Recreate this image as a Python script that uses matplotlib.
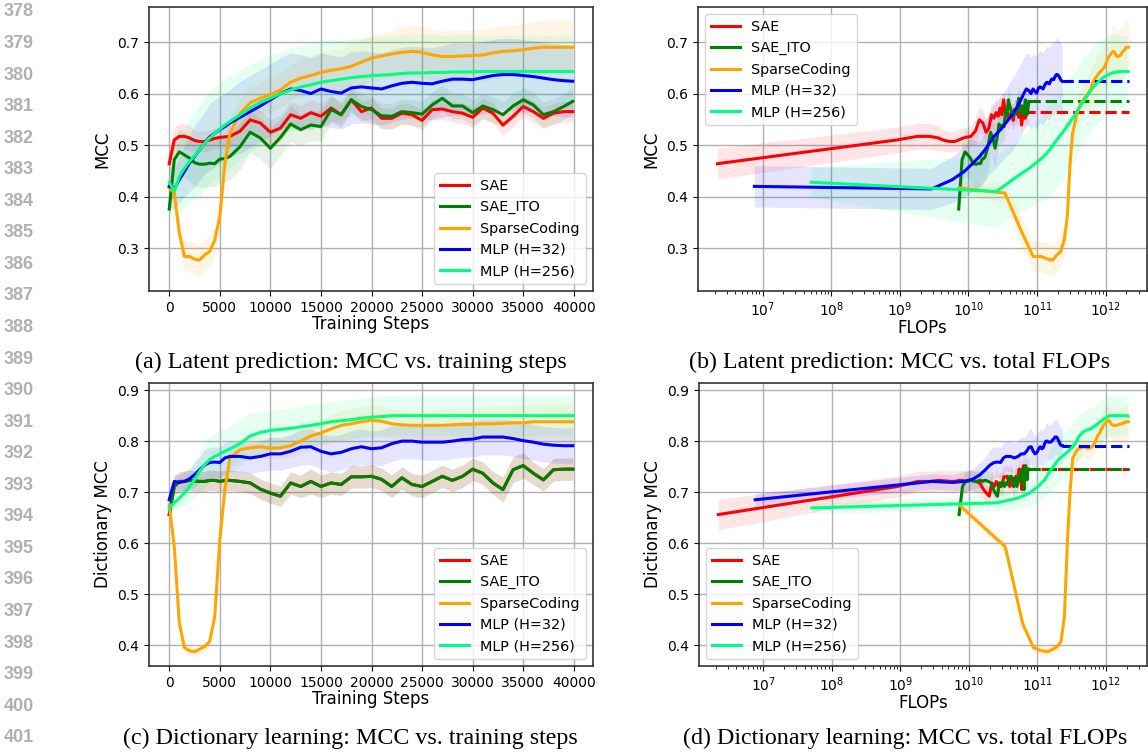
import matplotlib.pyplot as plt
import numpy as np

plt.rcParams['font.family'] = 'DejaVu Sans'

# training steps at which MCC was logged
steps = [0, 500, 1000, 1500, 2000, 2500, 3000, 3500, 4000, 4500, 5000, 5500, 6000,
         7000, 8000, 9000, 10000, 11000, 12000, 13000, 14000, 15000, 16000, 17000,
         18000, 19000, 20000, 21000, 22000, 23000, 24000, 25000, 26000, 27000, 28000,
         29000, 30000, 31000, 32000, 33000, 34000, 35000, 36000, 37000, 38000, 39000, 39900]

methods = ['SAE', 'SAE_ITO', 'SparseCoding', 'MLP (H=32)', 'MLP (H=256)']
colors = ['red', 'green', 'orange', 'blue', 'springgreen']

# FLOPs model: cost at step 0 and cost per training step
flops_start = [2.2e6, 7.2e9, 7.2e9, 7.6e6, 5.1e7]
flops_per_step = [1.8e6, 1.72e6, 5.35e7, 5.8e6, 5.1e7]
dash_offset = [1.0, 0, 0, 0, 0]

# latent prediction MCC (mean)
lat_sae = [0.464, 0.510, 0.517, 0.517, 0.514, 0.509, 0.507, 0.507, 0.510, 0.513, 0.515, 0.516, 0.517,
           0.527, 0.549, 0.543, 0.525, 0.533, 0.559, 0.552, 0.563, 0.556, 0.572, 0.559, 0.588, 0.565,
           0.572, 0.552, 0.552, 0.562, 0.559, 0.548, 0.569, 0.570, 0.565, 0.562, 0.554, 0.572, 0.562,
           0.539, 0.556, 0.575, 0.565, 0.552, 0.562, 0.565, 0.565]
lat_ito = [0.376, 0.472, 0.487, 0.481, 0.475, 0.466, 0.463, 0.463, 0.465, 0.464, 0.473, 0.474, 0.478,
           0.497, 0.525, 0.514, 0.494, 0.515, 0.541, 0.530, 0.539, 0.536, 0.569, 0.559, 0.588, 0.575,
           0.569, 0.557, 0.556, 0.565, 0.563, 0.560, 0.578, 0.591, 0.576, 0.576, 0.563, 0.576, 0.569,
           0.559, 0.576, 0.588, 0.578, 0.559, 0.565, 0.575, 0.585]
lat_sc = [0.417, 0.407, 0.329, 0.284, 0.284, 0.279, 0.277, 0.287, 0.294, 0.316, 0.361, 0.465, 0.523,
          0.562, 0.582, 0.591, 0.598, 0.607, 0.622, 0.630, 0.635, 0.641, 0.645, 0.648, 0.653, 0.661,
          0.669, 0.673, 0.677, 0.680, 0.682, 0.680, 0.675, 0.672, 0.672, 0.673, 0.674, 0.675, 0.679,
          0.682, 0.683, 0.685, 0.688, 0.690, 0.690, 0.690, 0.690]
lat_mlp32 = [0.420, 0.415, 0.433, 0.449, 0.465, 0.478, 0.491, 0.504, 0.516, 0.523, 0.530, 0.536, 0.543,
             0.554, 0.565, 0.576, 0.588, 0.600, 0.609, 0.606, 0.600, 0.609, 0.604, 0.601, 0.611, 0.613,
             0.611, 0.609, 0.615, 0.620, 0.622, 0.620, 0.619, 0.624, 0.628, 0.628, 0.627, 0.631, 0.635,
             0.637, 0.637, 0.635, 0.633, 0.630, 0.627, 0.625, 0.624]
lat_mlp256 = [0.428, 0.410, 0.439, 0.455, 0.468, 0.479, 0.491, 0.504, 0.514, 0.523, 0.531, 0.539, 0.546,
              0.559, 0.572, 0.583, 0.591, 0.600, 0.607, 0.613, 0.617, 0.622, 0.625, 0.628, 0.631, 0.633,
              0.635, 0.636, 0.637, 0.639, 0.640, 0.640, 0.641, 0.641, 0.642, 0.642, 0.642, 0.643, 0.643,
              0.643, 0.643, 0.643, 0.643, 0.643, 0.643, 0.643, 0.643]

# latent prediction MCC (std over seeds)
lat_sae_sd = [0.03, 0.025, 0.025, 0.025, 0.025, 0.02, 0.02, 0.02, 0.02, 0.02, 0.02, 0.02, 0.02,
              0.025, 0.025, 0.025, 0.025, 0.025, 0.025, 0.025, 0.025, 0.025, 0.025, 0.02, 0.02, 0.02,
              0.02, 0.02, 0.02, 0.02, 0.02, 0.02, 0.02, 0.02, 0.02, 0.02, 0.02, 0.02, 0.02,
              0.02, 0.02, 0.02, 0.02, 0.02, 0.02, 0.02, 0.02]
lat_ito_sd = [0.02, 0.04, 0.045, 0.045, 0.045, 0.045, 0.045, 0.045, 0.045, 0.045, 0.045, 0.045, 0.045,
              0.045, 0.04, 0.04, 0.04, 0.035, 0.035, 0.03, 0.03, 0.03, 0.025, 0.025, 0.025, 0.025,
              0.025, 0.025, 0.025, 0.025, 0.025, 0.025, 0.025, 0.025, 0.025, 0.025, 0.025, 0.025, 0.025,
              0.025, 0.025, 0.025, 0.025, 0.025, 0.025, 0.025, 0.025]
lat_sc_sd = [0.01, 0.02, 0.03, 0.03, 0.03, 0.03, 0.03, 0.03, 0.03, 0.03, 0.03, 0.03, 0.03,
             0.03, 0.03, 0.03, 0.035, 0.035, 0.035, 0.035, 0.04, 0.04, 0.04, 0.04, 0.045, 0.045,
             0.045, 0.045, 0.045, 0.05, 0.05, 0.05, 0.05, 0.05, 0.05, 0.05, 0.05, 0.05, 0.05,
             0.05, 0.05, 0.05, 0.052, 0.052, 0.052, 0.052, 0.052]
lat_mlp32_sd = [0.04, 0.04, 0.045, 0.05, 0.055, 0.06, 0.06, 0.06, 0.065, 0.065, 0.065, 0.065, 0.065,
                0.07, 0.07, 0.07, 0.07, 0.07, 0.07, 0.07, 0.07, 0.07, 0.07, 0.07, 0.07, 0.07,
                0.07, 0.07, 0.07, 0.07, 0.07, 0.07, 0.07, 0.07, 0.07, 0.07, 0.07, 0.07, 0.07,
                0.07, 0.07, 0.07, 0.07, 0.07, 0.07, 0.07, 0.07]
lat_mlp256_sd = [0.03, 0.07, 0.07, 0.075, 0.08, 0.085, 0.09, 0.09, 0.09, 0.09, 0.09, 0.09, 0.09,
                 0.085, 0.085, 0.085, 0.085, 0.08, 0.08, 0.08, 0.08, 0.08, 0.08, 0.075, 0.075, 0.075,
                 0.075, 0.075, 0.075, 0.075, 0.075, 0.075, 0.075, 0.072, 0.072, 0.072, 0.072, 0.07, 0.07,
                 0.07, 0.07, 0.07, 0.07, 0.07, 0.07, 0.07, 0.07]

# dictionary learning MCC (mean); SAE and SAE_ITO coincide here
dict_ito = [0.656, 0.711, 0.721, 0.721, 0.723, 0.722, 0.721, 0.721, 0.723, 0.723, 0.721, 0.723, 0.723,
            0.721, 0.718, 0.706, 0.698, 0.692, 0.718, 0.711, 0.721, 0.711, 0.718, 0.715, 0.730, 0.730,
            0.731, 0.725, 0.711, 0.728, 0.715, 0.711, 0.721, 0.731, 0.723, 0.731, 0.745, 0.737, 0.718,
            0.705, 0.744, 0.752, 0.737, 0.724, 0.744, 0.745, 0.745]
dict_sae = list(dict_ito)
dict_sc = [0.675, 0.593, 0.443, 0.395, 0.389, 0.387, 0.392, 0.397, 0.407, 0.456, 0.606, 0.705, 0.767,
           0.783, 0.787, 0.789, 0.786, 0.787, 0.791, 0.800, 0.810, 0.816, 0.824, 0.831, 0.834, 0.838,
           0.841, 0.839, 0.834, 0.832, 0.831, 0.831, 0.831, 0.831, 0.832, 0.833, 0.833, 0.834, 0.834,
           0.835, 0.836, 0.836, 0.838, 0.838, 0.838, 0.838, 0.838]
dict_mlp32 = [0.685, 0.721, 0.719, 0.721, 0.726, 0.734, 0.744, 0.753, 0.758, 0.759, 0.758, 0.767, 0.770,
              0.770, 0.767, 0.770, 0.775, 0.775, 0.780, 0.788, 0.789, 0.780, 0.775, 0.778, 0.785, 0.789,
              0.785, 0.787, 0.795, 0.800, 0.800, 0.798, 0.798, 0.798, 0.800, 0.803, 0.804, 0.808, 0.808,
              0.808, 0.805, 0.801, 0.798, 0.794, 0.792, 0.791, 0.791]
dict_mlp256 = [0.669, 0.679, 0.688, 0.698, 0.711, 0.724, 0.741, 0.754, 0.764, 0.770, 0.775, 0.780, 0.785,
               0.795, 0.810, 0.817, 0.821, 0.823, 0.825, 0.828, 0.831, 0.834, 0.838, 0.840, 0.842, 0.845,
               0.847, 0.848, 0.850, 0.850, 0.850, 0.850, 0.850, 0.850, 0.850, 0.850, 0.850, 0.850, 0.850,
               0.850, 0.850, 0.850, 0.850, 0.850, 0.850, 0.850, 0.850]

# dictionary learning MCC (std)
dict_ito_sd = [0.01, 0.015, 0.02, 0.02, 0.02, 0.02, 0.02, 0.02, 0.02, 0.02, 0.02, 0.02, 0.02,
               0.02, 0.02, 0.02, 0.02, 0.02, 0.022, 0.022, 0.025, 0.022, 0.022, 0.022, 0.022, 0.022,
               0.022, 0.022, 0.022, 0.022, 0.022, 0.022, 0.022, 0.022, 0.022, 0.022, 0.022, 0.022, 0.022,
               0.025, 0.025, 0.025, 0.022, 0.022, 0.022, 0.022, 0.022]
dict_sae_sd = [0.03, 0.02, 0.02, 0.02, 0.02, 0.02, 0.02, 0.02, 0.02, 0.02, 0.02, 0.02, 0.02,
               0.02, 0.02, 0.02, 0.02, 0.02, 0.022, 0.022, 0.025, 0.022, 0.022, 0.022, 0.022, 0.022,
               0.022, 0.022, 0.022, 0.022, 0.022, 0.022, 0.022, 0.022, 0.022, 0.022, 0.022, 0.022, 0.022,
               0.025, 0.025, 0.025, 0.022, 0.022, 0.022, 0.022, 0.022]
dict_sc_sd = [0.01, 0.012, 0.012, 0.01, 0.01, 0.01, 0.01, 0.01, 0.01, 0.015, 0.02, 0.02, 0.02,
              0.02, 0.02, 0.02, 0.022, 0.022, 0.022, 0.025, 0.025, 0.025, 0.028, 0.028, 0.03, 0.03,
              0.03, 0.03, 0.03, 0.03, 0.03, 0.03, 0.03, 0.032, 0.032, 0.032, 0.032, 0.033, 0.033,
              0.034, 0.034, 0.035, 0.035, 0.035, 0.035, 0.035, 0.035]
dict_mlp32_sd = [0.012, 0.015, 0.015, 0.02, 0.02, 0.025, 0.025, 0.03, 0.03, 0.03, 0.03, 0.03, 0.03,
                 0.03, 0.03, 0.03, 0.032, 0.032, 0.032, 0.035, 0.035, 0.035, 0.035, 0.035, 0.035, 0.035,
                 0.035, 0.035, 0.035, 0.035, 0.035, 0.035, 0.035, 0.035, 0.035, 0.035, 0.035, 0.035, 0.035,
                 0.035, 0.035, 0.035, 0.035, 0.035, 0.035, 0.035, 0.035]
dict_mlp256_sd = [0.01, 0.015, 0.02, 0.025, 0.03, 0.035, 0.04, 0.045, 0.045, 0.045, 0.045, 0.045, 0.045,
                  0.045, 0.045, 0.04, 0.04, 0.04, 0.04, 0.04, 0.04, 0.04, 0.04, 0.04, 0.04, 0.04,
                  0.04, 0.04, 0.04, 0.04, 0.04, 0.04, 0.04, 0.04, 0.04, 0.04, 0.04, 0.04, 0.04,
                  0.04, 0.04, 0.04, 0.04, 0.04, 0.04, 0.04, 0.04]

lat_means = [lat_sae, lat_ito, lat_sc, lat_mlp32, lat_mlp256]
lat_sds = [lat_sae_sd, lat_ito_sd, lat_sc_sd, lat_mlp32_sd, lat_mlp256_sd]
dict_means = [dict_sae, dict_ito, dict_sc, dict_mlp32, dict_mlp256]
dict_sds = [dict_sae_sd, dict_ito_sd, dict_sc_sd, dict_mlp32_sd, dict_mlp256_sd]

line_numbers = list(range(378, 402))
captions = ['(a) Latent prediction: MCC vs. training steps',
            '(b) Latent prediction: MCC vs. total FLOPs',
            '(c) Dictionary learning: MCC vs. training steps',
            '(d) Dictionary learning: MCC vs. total FLOPs']

W, H = 1148, 752
fig = plt.figure(figsize=(W / 100, H / 100), dpi=100)


def px_axes(l, t, r, b):
    return fig.add_axes([l / W, 1 - b / H, (r - l) / W, (b - t) / H])


def style(ax, ylabel, yticks, ylim):
    ax.grid(True, color='#b0b0b0', lw=1.0)
    ax.set_axisbelow(True)
    ax.set_ylim(*ylim)
    ax.set_yticks(yticks)
    ax.tick_params(labelsize=10)
    ax.set_ylabel(ylabel, fontsize=12)
    for s in ax.spines.values():
        s.set_color('#333333')
        s.set_linewidth(1.2)


def plot_steps(ax, means, sds, ylabel, yticks, ylim, loc):
    x = np.array(steps)
    for name, c, m, sd in zip(methods, colors, means, sds):
        m = np.array(m)
        sd = np.array(sd)
        ax.fill_between(x, m - sd, m + sd, color=c, alpha=0.1, lw=0)
        ax.plot(x, m, color=c, lw=2.2, label=name)
    ax.set_xlim(-2000, 41900)
    ax.set_xticks(range(0, 40001, 5000))
    ax.set_xlabel('Training Steps', fontsize=12, labelpad=0)
    style(ax, ylabel, yticks, ylim)
    ax.legend(loc=loc, fontsize=10.4)


def plot_flops(ax, means, sds, ylabel, yticks, ylim, loc):
    x = np.array(steps)
    fl = [f0 + k * x for f0, k in zip(flops_start, flops_per_step)]
    end = max(f[-1] for f in fl)
    for name, c, f, m, sd, off in zip(methods, colors, fl, means, sds, dash_offset):
        m = np.array(m)
        sd = np.array(sd)
        ax.fill_between(f, m - sd, m + sd, color=c, alpha=0.1, lw=0)
        ax.plot(f, m, color=c, lw=2.2, label=name)
        if f[-1] < end * 0.99:
            ax.plot([f[-1], end], [m[-1], m[-1]], color=c, lw=2.2,
                    ls=(off, (3.7, 1.6)))
    ax.set_xscale('log')
    ax.set_xlim(10 ** 6.06, 10 ** 12.6)
    ax.set_xlabel('FLOPs', fontsize=12, labelpad=0)
    style(ax, ylabel, yticks, ylim)
    ax.grid(False, which='minor')
    ax.legend(loc=loc, fontsize=10.4)


ax_a = px_axes(149, 7, 593, 291)
ax_b = px_axes(698, 7, 1147, 291)
ax_c = px_axes(149, 383, 593, 666)
ax_d = px_axes(699, 383, 1147, 666)

top_ticks = [0.3, 0.4, 0.5, 0.6, 0.7]
bot_ticks = [0.4, 0.5, 0.6, 0.7, 0.8, 0.9]
plot_steps(ax_a, lat_means, lat_sds, 'MCC', top_ticks, (0.217, 0.768), 'lower right')
plot_flops(ax_b, lat_means, lat_sds, 'MCC', top_ticks, (0.217, 0.768), 'upper left')
plot_steps(ax_c, dict_means, dict_sds, 'Dictionary MCC', bot_ticks, (0.359, 0.914), 'lower right')
plot_flops(ax_d, dict_means, dict_sds, 'Dictionary MCC', bot_ticks, (0.359, 0.914), 'lower left')

cap_pos = [(351, 362), (900, 362), (350, 738), (905, 738)]
for txt, (cx, cy) in zip(captions, cap_pos):
    fig.text(cx / W, 1 - cy / H, txt, ha='center', va='center',
             fontsize=17.3, family='Liberation Serif')

for i, n in enumerate(line_numbers):
    fig.text(4 / W, 1 - (12 + 31.55 * i) / H, str(n), ha='left', va='center',
             fontsize=13, color='#b0b0b0', family='Liberation Sans', weight='bold')

fig.savefig('out.png', dpi=100)
